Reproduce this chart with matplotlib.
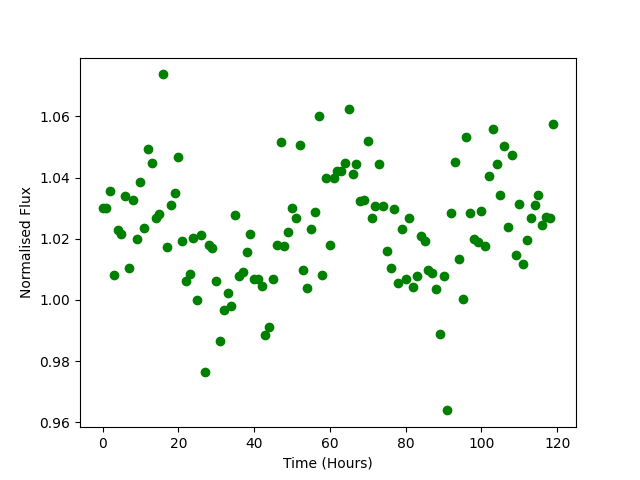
import matplotlib
matplotlib.use("Agg")
import matplotlib.pyplot as plt
import numpy as np

hours = list(range(120))
flux = [
    1.0299, 1.0299, 1.0355, 1.0083, 1.0230, 1.0215, 1.0339, 1.0103, 1.0325, 1.0198,
    1.0384, 1.0234, 1.0492, 1.0446, 1.0267, 1.0280, 1.0737, 1.0172, 1.0309, 1.0348,
    1.0466, 1.0191, 1.0061, 1.0086, 1.0201, 1.0000, 1.0211, 0.9763, 1.0178, 1.0169,
    1.0061, 0.9865, 0.9966, 1.0022, 0.9980, 1.0276, 1.0077, 1.0090, 1.0156, 1.0214,
    1.0067, 1.0070, 1.0044, 0.9884, 0.9910, 1.0070, 1.0181, 1.0515, 1.0175, 1.0221,
    1.0299, 1.0267, 1.0505, 1.0097, 1.0038, 1.0231, 1.0286, 1.0600, 1.0080, 1.0397,
    1.0178, 1.0400, 1.0420, 1.0420, 1.0446, 1.0623, 1.0410, 1.0443, 1.0322, 1.0325,
    1.0518, 1.0267, 1.0306, 1.0443, 1.0306, 1.0159, 1.0103, 1.0296, 1.0054, 1.0231,
    1.0070, 1.0267, 1.0041, 1.0077, 1.0208, 1.0191, 1.0097, 1.0087, 1.0035, 0.9888,
    1.0077, 0.9639, 1.0283, 1.0450, 1.0133, 1.0003, 1.0531, 1.0283, 1.0198, 1.0188,
    1.0289, 1.0175, 1.0404, 1.0557, 1.0443, 1.0342, 1.0502, 1.0237, 1.0473, 1.0146,
    1.0312, 1.0116, 1.0195, 1.0267, 1.0309, 1.0342, 1.0244, 1.0270, 1.0267, 1.0574,
]

fig = plt.figure(figsize=(6.4, 4.8), dpi=100)
plt.plot(hours, flux, 'o', color='green')
plt.xlabel('Time (Hours)')
plt.ylabel('Normalised Flux')
plt.savefig('out.png', dpi=100)
